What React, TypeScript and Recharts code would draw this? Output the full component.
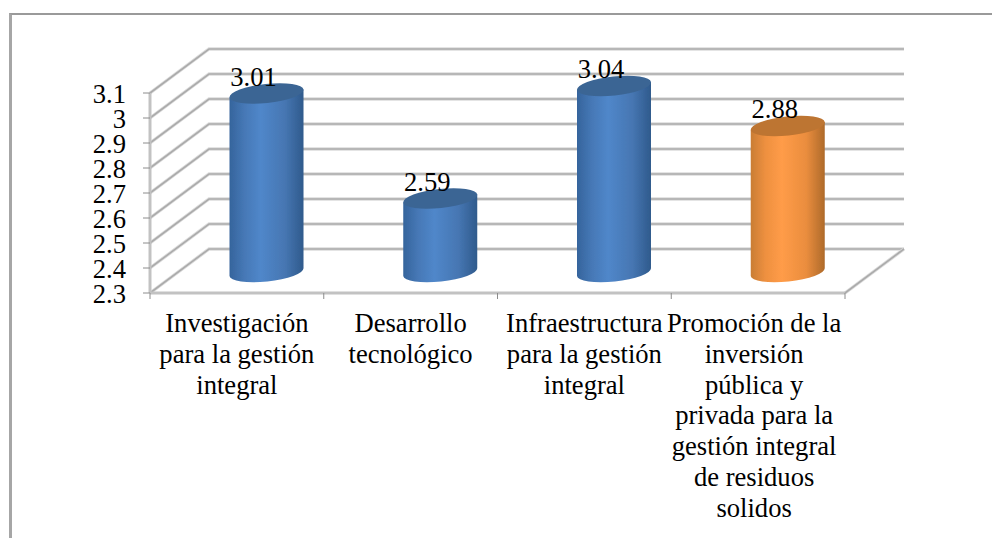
import { BarChart, Bar, XAxis, YAxis, CartesianGrid, LabelList } from 'recharts';

const categories = [
  'Investigación para la gestión integral',
  'Desarrollo tecnológico',
  'Infraestructura para la gestión integral',
  'Promoción de la inversión pública y privada para la gestión integral de residuos solidos',
];
const categoryLines = [
  ['Investigación', 'para la gestión', 'integral'],
  ['Desarrollo', 'tecnológico'],
  ['Infraestructura', 'para la gestión', 'integral'],
  ['Promoción de la', 'inversión', 'pública y', 'privada para la', 'gestión integral', 'de residuos', 'solidos'],
];
const values = [3.01, 2.59, 3.04, 2.88];
const yTicks = [2.3, 2.4, 2.5, 2.6, 2.7, 2.8, 2.9, 3, 3.1];
const orangeIndex = 3;

const chartData = categories.map((name, i) => ({ name, value: values[i] }));

const FONT = '"Liberation Serif", serif';
const FONT_SIZE = 26.6;
const DEPTH_X = 59;
const DEPTH_Y = -44;
const MID_X = DEPTH_X / 2;
const MID_Y = DEPTH_Y / 2;
const LABEL_GAP = 39;
const GRID_HALO = '#dcdcdc';
const GRID_CORE = '#ababab';
const TICK_COLOR = '#8c8c8c';

const Wall = ({ points, halo }: any) => (
  <polyline points={points} fill="none" stroke={halo ? GRID_HALO : GRID_CORE} strokeWidth={halo ? 3.4 : 1.6} />
);

// each grid line runs up the side wall, then along the back wall
const gridLine = (props: any) => {
  const { x1, x2, y1, index, key } = props;
  const side = `${x1},${y1} ${x1 + DEPTH_X},${y1 + DEPTH_Y} ${x2 + DEPTH_X},${y1 + DEPTH_Y}`;
  const floor = `${x2},${y1} ${x2 + DEPTH_X},${y1 + DEPTH_Y}`;
  const isFloor = y1 >= 290;
  return (
    <g key={key ?? index}>
      <Wall points={side} halo />
      <Wall points={side} />
      {isFloor && <Wall points={floor} halo />}
      {isFloor && <Wall points={floor} />}
    </g>
  );
};

const Cylinder = ({ x, y, width, height, index }: any) => {
  const orange = index === orangeIndex;
  const rx = width / 2;
  const ry = 9.5;
  const tilt = 4;
  const left = x + MID_X;
  const right = left + width;
  const top = y + MID_Y;
  const bottom = y + height + MID_Y + 1;
  const body = `M${left},${top + tilt} L${left},${bottom + tilt} A${rx},${ry} -6.2 0 0 ${right},${bottom - tilt} L${right},${top - tilt} Z`;
  const topFace = `M${left},${top + tilt} A${rx},${ry} -6.2 0 0 ${right},${top - tilt} A${rx},${ry} -6.2 0 0 ${left},${top + tilt} Z`;
  return (
    <g filter="url(#soft)">
      <path d={body} fill={orange ? 'url(#orangeSide)' : 'url(#blueSide)'} />
      <path d={topFace} fill={orange ? '#bd7431' : '#3b6594'} />
    </g>
  );
};

const ValueLabel = ({ x, y, width, value }: any) => (
  <text
    x={x + width / 2 + MID_X - 13}
    y={y + MID_Y - 8}
    textAnchor="middle"
    fontFamily={FONT}
    fontSize={FONT_SIZE}
    fill="#000"
  >
    {value}
  </text>
);

// the ticks of the reference sit on the band edges, not on the band centres
const CategoryTick = ({ x, y, index, payload }: any) => {
  const half = payload.offset;
  const axisY = y - LABEL_GAP;
  const isLast = index === categories.length - 1;
  const textX = isLast ? x - 4 : x;
  return (
    <g>
      <line x1={x - half} x2={x - half} y1={axisY} y2={axisY + 6} stroke={TICK_COLOR} />
      {isLast && <line x1={x + half} x2={x + half} y1={axisY} y2={axisY + 6} stroke={TICK_COLOR} />}
      <text x={textX} y={y} textAnchor="middle" fontFamily={FONT} fontSize={FONT_SIZE} fill="#000">
        {categoryLines[index].map((line, i) => (
          <tspan key={line} x={textX} dy={i === 0 ? 0 : 30.8}>
            {line}
          </tspan>
        ))}
      </text>
    </g>
  );
};

const ValueTick = ({ x, y, payload }: any) => (
  <text x={x} y={y + 10} textAnchor="end" fontFamily={FONT} fontSize={FONT_SIZE} fill="#000">
    {payload.value}
  </text>
);

export default function App() {
  return (
    <div style={{ position: 'fixed', left: 0, top: 0, width: 992, height: 538, overflow: 'hidden', background: '#fff' }}>
      <div
        style={{
          position: 'absolute',
          left: 9,
          top: 13,
          width: 983,
          height: 525,
          borderTop: '2px solid #9a9a9a',
          borderLeft: '3px solid #a6a6a6',
          boxSizing: 'border-box',
        }}
      />
      <div style={{ position: 'absolute', left: 0, top: 0 }}>
        <BarChart
          width={992}
          height={538}
          data={chartData}
          barSize={74}
          margin={{ top: 93, right: 147, bottom: 243, left: 0 }}
        >
          <defs>
            <linearGradient id="blueSide" x1="0" y1="0" x2="1" y2="0">
              <stop offset="0" stopColor="#35649c" />
              <stop offset="0.2" stopColor="#4678b6" />
              <stop offset="0.42" stopColor="#5087ca" />
              <stop offset="0.75" stopColor="#4676b2" />
              <stop offset="1" stopColor="#2f5a8c" />
            </linearGradient>
            <linearGradient id="orangeSide" x1="0" y1="0" x2="1" y2="0">
              <stop offset="0" stopColor="#c97d34" />
              <stop offset="0.2" stopColor="#ee9040" />
              <stop offset="0.42" stopColor="#ff9c48" />
              <stop offset="0.75" stopColor="#ea8d3e" />
              <stop offset="1" stopColor="#ae6a2a" />
            </linearGradient>
            <filter id="soft" x="-5%" y="-5%" width="110%" height="110%">
              <feGaussianBlur stdDeviation="0.6" />
            </filter>
          </defs>
          <CartesianGrid vertical={false} horizontal={gridLine} />
          <XAxis
            dataKey="name"
            height={2}
            interval={0}
            tickLine={false}
            tickSize={0}
            tickMargin={LABEL_GAP}
            axisLine={{ stroke: '#c2c2c2', strokeWidth: 3 }}
            tick={<CategoryTick />}
          />
          <YAxis
            width={150}
            domain={[2.3, 3.1]}
            ticks={yTicks}
            interval={0}
            tickSize={7}
            tickMargin={17}
            axisLine={{ stroke: '#c2c2c2', strokeWidth: 3 }}
            tickLine={{ stroke: TICK_COLOR }}
            tick={<ValueTick />}
          />
          <Bar dataKey="value" isAnimationActive={false} shape={<Cylinder />}>
            <LabelList dataKey="value" content={<ValueLabel />} />
          </Bar>
        </BarChart>
      </div>
    </div>
  );
}
